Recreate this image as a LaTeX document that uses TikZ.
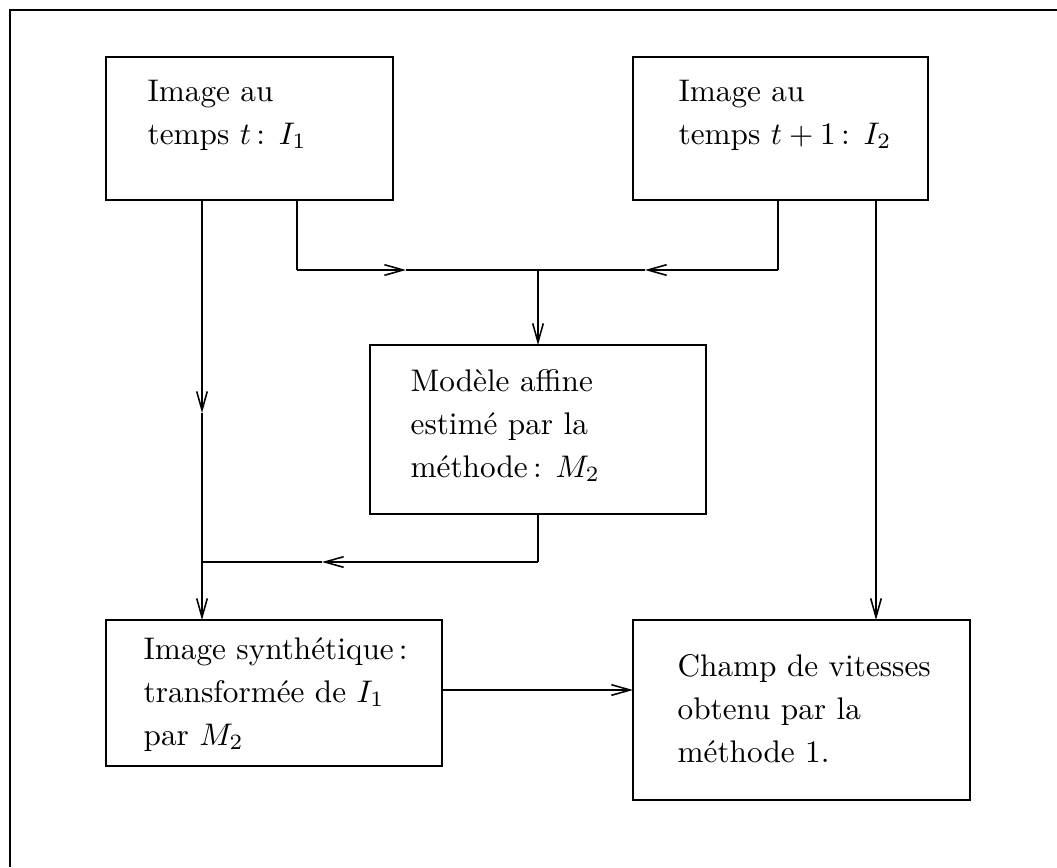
\documentclass[tikz,border=0pt]{standalone}
\usetikzlibrary{arrows.meta,fit}
\begin{document}
\begin{tikzpicture}[x=0.32pt,y=-0.32pt,
  box/.style={draw,line width=0.55pt,inner sep=0pt},
  txt/.style={align=left,inner sep=0pt,font=\fontsize{10}{13.76}\selectfont},
  ln/.style={line width=0.5pt},
  arr/.style={ln,-{Straight Barb[length=6pt,width=3.4pt]}}]
\useasboundingbox (0,0) rectangle (1057,867);
% outer frame
\coordinate (f1) at (10,867);
\coordinate (f2) at (10,10);
\coordinate (f3) at (1057,10);
\draw[ln] (f1) -- (f2) -- (f3);
% boxes
\node[box,fit={(106,57) (393,200)}] (bA) {};
\node[box,fit={(633,57) (928,200)}] (bB) {};
\node[box,fit={(370,345) (706,514)}] (bC) {};
\node[box,fit={(106,620) (442,766)}] (bD) {};
\node[box,fit={(633,620) (970,800)}] (bE) {};
% texts (anchored at the baseline of the last line)
\node[txt,anchor=base west] (tA) at (147,144) {Image au\\temps $t$\,: $I_1$};
\node[txt,anchor=base west] (tB) at (678,144) {Image au\\temps $t+1$\,: $I_2$};
\node[txt,anchor=base west] (tC) at (410,477) {Mod\`ele affine\\estim\'e par la\\m\'ethode\,: $M_2$};
\node[txt,anchor=base west] (tD) at (143,745) {Image synth\'etique\,:\\transform\'ee de $I_1$\\par $M_2$};
\node[txt,anchor=base west] (tE) at (677,762) {Champ de vitesses\\obtenu par la\\m\'ethode 1.};
% connector points
\coordinate (aL) at (202,200);
\coordinate (aLtip) at (202,413);
\coordinate (aLend) at (202,620);
\coordinate (aR) at (297,200);
\coordinate (aRc) at (297,270);
\coordinate (tip1) at (406,270);
\coordinate (J) at (538,270);
\coordinate (bL) at (778,200);
\coordinate (bLc) at (778,270);
\coordinate (tip2) at (645,270);
\coordinate (cTop) at (538,345);
\coordinate (cBot) at (538,514);
\coordinate (cBc) at (538,562);
\coordinate (tip3) at (322,562);
\coordinate (K) at (202,562);
\coordinate (bR) at (876,200);
\coordinate (eTop) at (876,620);
\coordinate (dR) at (442,690);
\coordinate (eL) at (633,690);
% connectors
\draw[arr] (aL) -- (aLtip);
\draw[arr] (aLtip) -- (aLend);
\draw[ln] (aR) -- (aRc);
\draw[arr] (aRc) -- (tip1);
\draw[ln] (tip1) -- (J);
\draw[ln] (bL) -- (bLc);
\draw[arr] (bLc) -- (tip2);
\draw[ln] (tip2) -- (J);
\draw[arr] (J) -- (cTop);
\draw[ln] (cBot) -- (cBc);
\draw[arr] (cBc) -- (tip3);
\draw[ln] (tip3) -- (K);
\draw[arr] (bR) -- (eTop);
\draw[arr] (dR) -- (eL);
\end{tikzpicture}
\end{document}
